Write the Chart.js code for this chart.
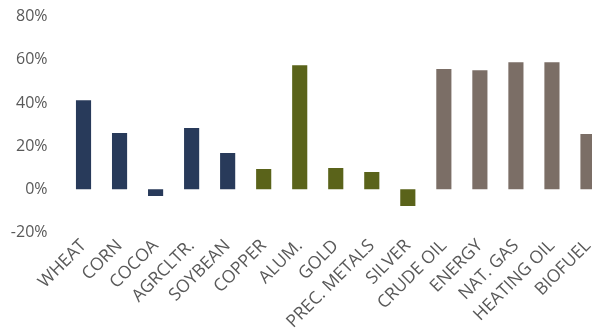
<!DOCTYPE html>
<html>
<head>
<meta charset="utf-8">
<script src="https://cdn.jsdelivr.net/npm/chart.js@4.4.1/dist/chart.umd.min.js"></script>
<style>
  html, body { margin: 0; padding: 0; background: #fff; overflow: hidden; }
  /* canvas is a bit larger than the window: plot area runs off the right edge */
  #wrap { position: relative; width: 606px; height: 346px; margin-top: -11px; }
</style>
</head>
<body>
<div id="wrap"><canvas id="returns"></canvas></div>
<script>
  // --- categories and values (% change) ---
  const commodities = ['WHEAT', 'CORN', 'COCOA', 'AGRCLTR.', 'SOYBEAN', 'COPPER', 'ALUM.', 'GOLD',
    'PREC. METALS', 'SILVER', 'CRUDE OIL', 'ENERGY', 'NAT. GAS', 'HEATING OIL', 'BIOFUEL'];
  const changes = [41.3, 26.1, -3.1, 28.4, 16.8, 9.4, 57.5, 9.9, 8.0, -7.7, 55.7, 55.2, 58.9, 58.9, 25.6];
  const groups = ['ag', 'ag', 'ag', 'ag', 'ag', 'metal', 'metal', 'metal', 'metal', 'metal',
    'energy', 'energy', 'energy', 'energy', 'energy'];
  const yTicks = [-20, 0, 20, 40, 60, 80];

  const groupColors = { ag: '#283a5a', metal: '#5a631a', energy: '#7b6e66' };
  const textColor = '#595959';
  const family = "'Open Sans', sans-serif";

  new Chart(document.getElementById('returns'), {
    type: 'bar',
    data: {
      labels: commodities,
      datasets: [{
        data: changes,
        backgroundColor: groups.map(g => groupColors[g]),
        categoryPercentage: 1,
        barPercentage: 0.42
      }]
    },
    options: {
      responsive: true,
      maintainAspectRatio: false,
      animation: false,
      layout: { padding: { top: 5.5, right: 0, bottom: 0, left: 0 } },
      plugins: { legend: { display: false }, tooltip: { enabled: false } },
      scales: {
        x: {
          grid: { display: false, drawTicks: false },
          border: { display: false },
          ticks: {
            color: textColor, font: { family, size: 17.5 }, autoSkip: false,
            minRotation: 45, maxRotation: 45, padding: 3
          },
          afterFit: s => { s.height = 102.5; }
        },
        y: {
          min: -20, max: 80,
          grid: { display: false, drawTicks: false },
          border: { display: false },
          afterBuildTicks: s => { s.ticks = yTicks.map(v => ({ value: v })); },
          ticks: { color: textColor, font: { family, size: 16 }, padding: 18, callback: v => v + '%' },
          afterFit: s => { s.width = 65.5; }
        }
      }
    }
  });
</script>
</body>
</html>
